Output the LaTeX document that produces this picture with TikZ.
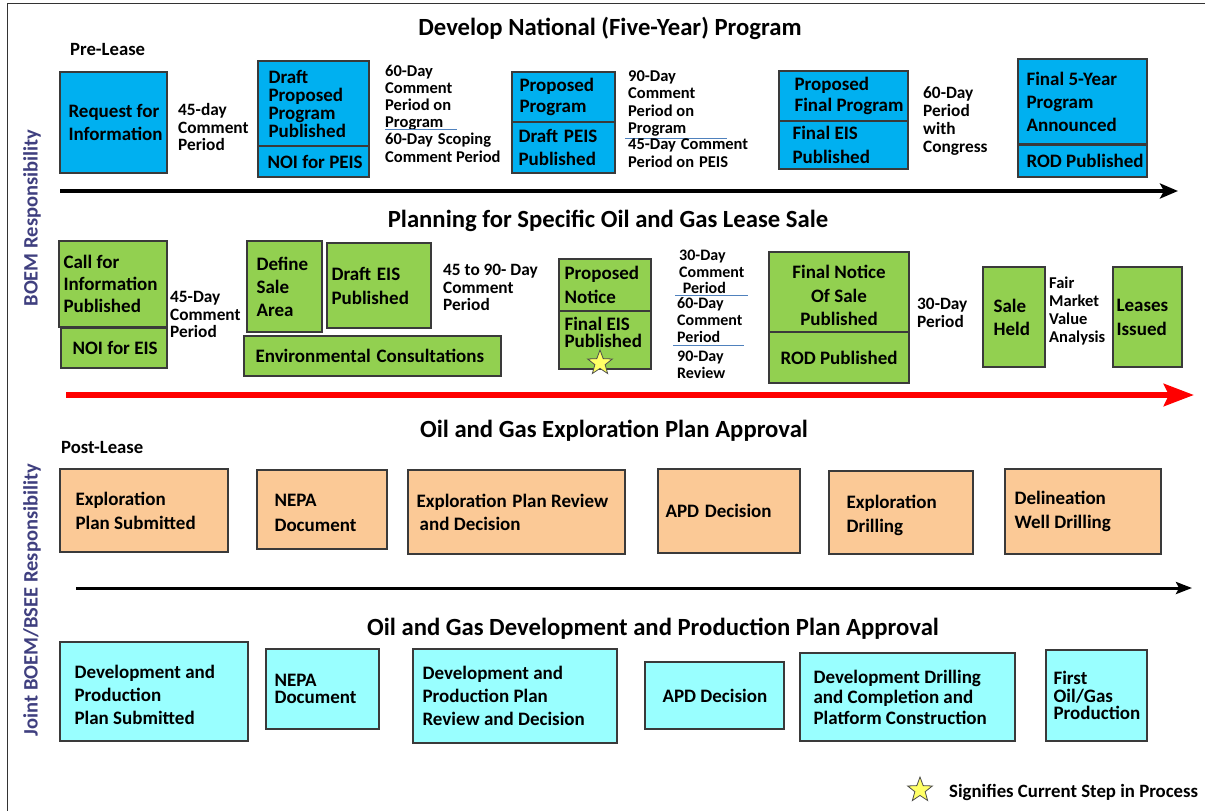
\documentclass[tikz,border=0pt]{standalone}
\usepackage{fontspec}
\setmainfont{Carlito}
\usetikzlibrary{shapes.geometric,arrows.meta}
\definecolor{cblue}{HTML}{00B0F0}
\definecolor{cgreen}{HTML}{92D050}
\definecolor{corange}{HTML}{FBC996}
\definecolor{ccyan}{HTML}{99FFFF}
\definecolor{bord}{HTML}{3A3A3A}
\definecolor{sidec}{HTML}{3F3F7F}
\definecolor{ulc}{HTML}{4F81BD}
\definecolor{staryel}{HTML}{FFFF66}
\newcommand\gapx{\hspace{0.3em}}
\tikzset{
 boxs/.style={draw=bord, line width=1.3pt, inner sep=0pt},
 boxt/.style={inner sep=0pt, align=left, font=\bfseries\fontsize{19}{23}\selectfont},
 sk/.style={font=\bfseries\fontsize{19}{#1}\selectfont},
 ann/.style={inner sep=0pt, anchor=base west, align=left, font=\bfseries\fontsize{17.3}{17.5}\selectfont},
 af/.style 2 args={font=\bfseries\fontsize{#1}{#2}\selectfont},
 ttl/.style={inner sep=0pt, anchor=base, font=\bfseries\fontsize{24.7}{28}\selectfont},
 sublab/.style={inner sep=0pt, anchor=base west, font=\bfseries\fontsize{18.7}{22}\selectfont},
 sidelab/.style={rotate=90, inner sep=0pt, text=sidec, font=\bfseries\fontsize{20.5}{22}\selectfont},
 uline/.style={draw=ulc, line width=0.8pt},
 starx/.style={star, star points=5, star point ratio=2.4, fill=staryel, draw=black!70, line width=0.8pt, minimum size=26pt, inner sep=0pt},
}
% \bx[text opts]{name}{x1}{y1}{x2}{y2}{pad}{fill}{text}
\newcommand\bx[9][]{%
  \pgfmathsetmacro\bxw{#5-#3}%
  \pgfmathsetmacro\bxh{#6-#4}%
  \node[boxs,fill=#8,minimum width=\bxw pt,minimum height=\bxh pt] (#2) at ({(#3+#5)/2},{(#4+#6)/2}) {};%
  \node[boxt,anchor=west,#1] (#2t) at ([xshift=#7pt]#2.west) {#9};%
}
\newcommand\bxc[8][]{%
  \pgfmathsetmacro\bxw{#5-#3}%
  \pgfmathsetmacro\bxh{#6-#4}%
  \node[boxs,fill=#7,minimum width=\bxw pt,minimum height=\bxh pt] (#2) at ({(#3+#5)/2},{(#4+#6)/2}) {};%
  \node[boxt,align=center,#1] (#2t) at (#2.center) {#8};%
}
\begin{document}
\begin{tikzpicture}[x=1pt,y=-1pt]
\fill[white] (0,0) rectangle (1205,811);
\useasboundingbox (0,0) rectangle (1205,811);
% frame
\draw[line width=1.2pt, black!80] (7.5,811) -- (7.5,3.5) -- (1205,3.5);

% side labels
\node[sidelab] (side1) at (32,218) {BOEM Responsibility};
\node[sidelab] (side2) at (32,600) {Joint BOEM/BSEE Responsibility};

% titles
\node[ttl] (t1) at (610,35) {Develop National (Five-Year) Program};
\node[ttl] (t2) at (608,227) {Planning for Specific Oil and Gas Lease Sale};
\node[ttl] (t3) at (614,437) {Oil and Gas Exploration Plan Approval};
\node[ttl] (t4) at (653,635) {Oil and Gas Development and Production Plan Approval};
\node[sublab] (pre) at (70,55) {Pre-Lease};
\node[sublab] (post) at (61,453) {Post-Lease};

% ---------- top row ----------
\bx[sk=23]{rfi}{60}{72}{167}{173}{9}{cblue}{Request for\\Information}
\bx[sk=18]{dpp}{258}{61}{369}{146}{11}{cblue}{Draft\\Proposed\\Program\\Published}
\bx{noip}{258}{146}{369}{177}{10}{cblue}{NOI for PEIS}
\bx[sk=21]{pp}{512}{72}{615}{122}{8}{cblue}{Proposed\\Program}
\bx[sk=23]{dpeis}{512}{122}{615}{173}{7}{cblue}{Draft\gapx PEIS\\Published}
\bx[sk=21]{pfp}{779}{71}{908}{121}{16}{cblue}{Proposed\\Final Program}
\bx[sk=24]{feis1}{779}{121}{908}{169}{14}{cblue}{Final EIS\\Published}
\bx[sk=23]{f5y}{1018}{59}{1147}{144}{9}{cblue}{Final 5-Year\\Program\\Announced}
\bx{rod1}{1018}{145}{1147}{177}{9}{cblue}{ROD Published}

\node[ann,af={17.3}{17.5}] (a1) at (178,150.5) {45-day\\Comment\\Period};
\node[ann,af={16.5}{17}] (a2) at (385,127.5) {60-Day\\Comment\\Period on\\Program};
\node[ann,af={16.5}{18}] (a3) at (385,162.5) {60-Day\gapx Scoping\\Comment Period};
\coordinate (l1a) at (385,129); \coordinate (l1b) at (457,129);
\draw[uline] (l1a) -- (l1b);
\node[ann,af={16.5}{17.3}] (a4) at (628,133.4) {90-Day\\Comment\\Period on\\Program};
\coordinate (l2a) at (625,138); \coordinate (l2b) at (727,138);
\draw[uline] (l2a) -- (l2b);
\node[ann,af={16.5}{18}] (a5) at (628,167.5) {45-Day\gapx Comment\\Period on\gapx PEIS};
\node[ann,af={17.3}{18}] (a6) at (923,152.5) {60-Day\\Period\\with\\Congress};

\coordinate (ar1s) at (60,191); \coordinate (ar1e) at (1178,191);
\draw[line width=4pt, -{Stealth[length=18pt,width=15pt,inset=4pt]}] (ar1s) -- (ar1e);

% ---------- middle row ----------
\bx[sk=22]{cfi}{59}{241}{167}{327}{5}{cgreen}{Call for\\Information\\Published}
\bx{noie}{61}{328}{167}{368}{12}{cgreen}{NOI for EIS}
\bx[sk=23]{dsa}{247}{241}{322}{332}{10}{cgreen}{Define\\Sale\\Area}
\bx[sk=24]{deis}{327}{243}{431}{328}{5}{cgreen}{Draft\gapx EIS\\Published}
\bx{env}{244}{336}{501}{376}{12}{cgreen}{Environmental\gapx Consultations}
\bx[sk=24]{pn}{559}{259}{651}{311}{6}{cgreen}{Proposed\\Notice}
\bx[sk=17.5,yshift=7.5pt]{fe}{559}{311}{651}{369}{6}{cgreen}{Final EIS\\Published}
\node[starx] (star1) at (600,363) {};
\bxc[sk=23.5,yshift=-3.5pt]{fns}{769}{252}{909}{332}{cgreen}{Final Notice\\Of Sale\\Published}
\bxc{rod2}{769}{332}{909}{383}{cgreen}{ROD Published}
\bx[sk=23]{sh}{983}{267}{1045}{367}{11}{cgreen}{Sale\\Held}
\bx[sk=24]{li}{1113}{267}{1182}{367}{4}{cgreen}{Leases\\Issued}

\node[ann,af={17.3}{17.5}] (b1) at (170,337.5) {45-Day\\Comment\\Period};
\node[ann,af={17.3}{17.5}] (b2) at (443,310.5) {45 to 90- Day\\Comment\\Period};
\node[ann,af={16}{16.5}] (b3) at (679,293.5) {30-Day\\Comment\\\ Period};
\coordinate (l3a) at (675,295); \coordinate (l3b) at (748,295);
\draw[uline] (l3a) -- (l3b);
\node[ann,af={16}{17}] (b4) at (677,342.5) {60-Day\\Comment\\Period};
\coordinate (l4a) at (673,345); \coordinate (l4b) at (744,345);
\draw[uline] (l4a) -- (l4b);
\node[ann,af={16}{16.5}] (b5) at (677,378) {90-Day\\Review};
\node[ann,af={17.3}{18}] (b6) at (917,327.5) {30-Day\\Period};
\node[ann,af={16.5}{18}] (b7) at (1049,342.5) {Fair\\Market\\Value\\Analysis};

\coordinate (ar2s) at (66,395); \coordinate (ar2e) at (1194,395);
\draw[red, line width=6pt, -{Stealth[length=30pt,width=22pt,inset=5pt]}] (ar2s) -- (ar2e);

% ---------- row 3 ----------
\bx[sk=24]{eps}{60}{469}{228}{552}{16}{corange}{Exploration\\Plan Submitted}
\bx[sk=25,yshift=-3pt]{nepa1}{257}{470}{387}{549}{18}{corange}{NEPA\\Document}
\bx[sk=23]{epr}{408}{470}{625}{554}{9}{corange}{Exploration\gapx Plan Review\\\,and Decision}
\bx{apd1}{658}{469}{800}{553}{8}{corange}{APD\gapx Decision}
\bx[sk=24,yshift=-2.5pt]{ed}{829}{471}{973}{554}{18}{corange}{Exploration\\Drilling}
\bx[sk=24]{dwd}{1005}{469}{1161}{554}{10}{corange}{Delineation\\Well Drilling}

\coordinate (ar3s) at (76,588); \coordinate (ar3e) at (1192,588);
\draw[line width=3pt, -{Stealth[length=16pt,width=12pt,inset=3pt]}] (ar3s) -- (ar3e);

% ---------- row 4 ----------
\bx[sk=23,yshift=-3pt]{dps}{60}{642}{248}{741}{15}{ccyan}{Development and\\Production\\Plan Submitted}
\bx[sk=17]{nepa2}{266}{649}{379}{729}{9}{ccyan}{NEPA\\Document}
\bx[sk=23]{dpr}{413}{649}{617}{743}{10}{ccyan}{Development and\\Production Plan\\Review and Decision}
\bx{apd2}{645}{662}{784}{729}{18}{ccyan}{APD Decision}
\bx[sk=20.5]{ddc}{800}{653}{1015}{741}{14}{ccyan}{Development Drilling\\and Completion and\\Platform Construction}
\bx[sk=17.5]{fop}{1046}{650}{1147}{741}{8}{ccyan}{First\\Oil/Gas\\Production}

% legend
\node[starx] (star2) at (920,790) {};
\node[inner sep=0pt, anchor=base west, font=\bfseries\fontsize{18.8}{20}\selectfont] (legend) at (949,797) {Signifies Current Step in Process};
\end{tikzpicture}
\end{document}
